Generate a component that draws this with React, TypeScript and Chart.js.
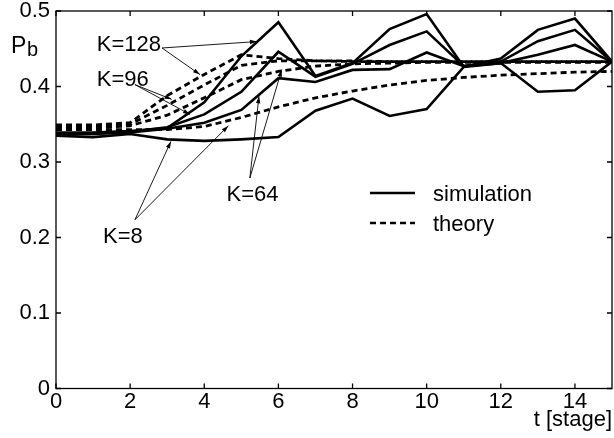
import React, { useEffect, useRef } from "react";
import { Chart, registerables } from "chart.js";

Chart.register(...registerables);

// ---- data ----
const stages = [0, 1, 2, 3, 4, 5, 6, 7, 8, 9, 10, 11, 12, 13, 14, 15];

const simK128 = [0.339, 0.339, 0.341, 0.345, 0.379, 0.44, 0.485, 0.414, 0.431, 0.476, 0.496, 0.426, 0.437, 0.475, 0.49, 0.433];
const simK96 = [0.338, 0.338, 0.34, 0.346, 0.363, 0.393, 0.446, 0.413, 0.43, 0.455, 0.473, 0.427, 0.433, 0.46, 0.475, 0.433];
const simK64 = [0.337, 0.337, 0.339, 0.344, 0.352, 0.369, 0.411, 0.406, 0.422, 0.423, 0.445, 0.427, 0.431, 0.442, 0.455, 0.433];
const simK8 = [0.335, 0.333, 0.337, 0.33, 0.328, 0.33, 0.333, 0.368, 0.384, 0.361, 0.37, 0.426, 0.431, 0.393, 0.395, 0.433];

const thK128 = [0.349, 0.349, 0.352, 0.388, 0.416, 0.442, 0.437, 0.434, 0.434, 0.433, 0.433, 0.433, 0.433, 0.433, 0.433, 0.433];
const thK96 = [0.347, 0.347, 0.35, 0.375, 0.402, 0.428, 0.434, 0.434, 0.433, 0.433, 0.433, 0.433, 0.433, 0.433, 0.433, 0.433];
const thK64 = [0.345, 0.345, 0.348, 0.362, 0.385, 0.409, 0.42, 0.427, 0.43, 0.431, 0.432, 0.432, 0.432, 0.432, 0.432, 0.432];
const thK8 = [0.343, 0.343, 0.343, 0.343, 0.347, 0.359, 0.373, 0.385, 0.394, 0.402, 0.408, 0.412, 0.415, 0.417, 0.419, 0.42];

const xTickValues = [0, 2, 4, 6, 8, 10, 12, 14];
const yTickValues = [0, 0.1, 0.2, 0.3, 0.4, 0.5];

const legendLabels = ["simulation", "theory"];
const xTitle = "t [stage]";
const yTitleMain = "P";
const yTitleSub = "b";

// annotation labels: text position and arrows, in data units (t, P)
const annotations = [
  { text: "K=128", at: [1.1, 0.4467], from: [2.86, 0.451], to: [[5.42, 0.4595], [3.885, 0.4158]] },
  { text: "K=96", at: [1.1, 0.4005], from: [2.13, 0.4025], to: [[3.12, 0.383], [3.615, 0.363]] },
  { text: "K=64", at: [4.6, 0.248], from: [5.23, 0.2788], to: [[5.476, 0.387], [6.09, 0.4224]] },
  { text: "K=8", at: [1.27, 0.1926], from: [2.13, 0.2235], to: [[3.1, 0.3273], [4.65, 0.348]] },
];

const FONT = "'Liberation Sans', Arial, Helvetica, sans-serif";
const FS = 22;

function toPoints(vals: number[]) {
  return stages.map((t, i) => ({ x: t, y: vals[i] }));
}

function arrow(ctx: CanvasRenderingContext2D, x0: number, y0: number, x1: number, y1: number) {
  ctx.beginPath();
  ctx.moveTo(x0, y0);
  ctx.lineTo(x1, y1);
  ctx.stroke();
  const ang = Math.atan2(y1 - y0, x1 - x0);
  const len = 7;
  const w = 2.2;
  const bx = x1 - len * Math.cos(ang);
  const by = y1 - len * Math.sin(ang);
  ctx.beginPath();
  ctx.moveTo(x1, y1);
  ctx.lineTo(bx + w * Math.sin(ang), by - w * Math.cos(ang));
  ctx.lineTo(bx - w * Math.sin(ang), by + w * Math.cos(ang));
  ctx.closePath();
  ctx.fill();
}

const framePlugin = {
  id: "frameDecor",
  afterDatasetsDraw(chart: any) {
    const { ctx, chartArea: a, scales } = chart;
    const xs = scales.x;
    const ys = scales.y;
    ctx.save();
    ctx.strokeStyle = "#000";
    ctx.fillStyle = "#000";
    ctx.lineWidth = 1.3;
    ctx.setLineDash([]);
    ctx.strokeRect(a.left, a.top, a.right - a.left, a.bottom - a.top);
    const tl = 5;
    ctx.beginPath();
    for (const t of xTickValues) {
      const px = xs.getPixelForValue(t);
      ctx.moveTo(px, a.bottom);
      ctx.lineTo(px, a.bottom - tl);
      ctx.moveTo(px, a.top);
      ctx.lineTo(px, a.top + tl);
    }
    for (const v of yTickValues) {
      const py = ys.getPixelForValue(v);
      ctx.moveTo(a.left, py);
      ctx.lineTo(a.left + tl, py);
      ctx.moveTo(a.right, py);
      ctx.lineTo(a.right - tl, py);
    }
    ctx.stroke();

    // axis titles
    ctx.textAlign = "left";
    ctx.textBaseline = "alphabetic";
    ctx.font = `23px ${FONT}`;
    ctx.fillText(yTitleMain, 11, 53);
    ctx.font = `20px ${FONT}`;
    ctx.fillText(yTitleSub, 27, 56);
    ctx.font = `${FS}px ${FONT}`;
    ctx.textAlign = "right";
    ctx.fillText(xTitle, a.right, 426);

    // legend
    const lx0 = 370;
    const lx1 = 415;
    const rows = [193, 223];
    ctx.lineWidth = 2.6;
    ctx.textAlign = "left";
    rows.forEach((ry, i) => {
      ctx.setLineDash(i === 0 ? [] : [6, 4]);
      ctx.beginPath();
      ctx.moveTo(lx0, ry);
      ctx.lineTo(lx1, ry);
      ctx.stroke();
      ctx.setLineDash([]);
      ctx.fillText(legendLabels[i], 433, ry + 8);
    });

    // annotations
    ctx.lineWidth = 0.9;
    ctx.font = `${FS}px ${FONT}`;
    for (const an of annotations) {
      ctx.textAlign = "left";
      ctx.fillText(an.text, xs.getPixelForValue(an.at[0]), ys.getPixelForValue(an.at[1]));
      const fx = xs.getPixelForValue(an.from[0]);
      const fy = ys.getPixelForValue(an.from[1]);
      for (const tp of an.to) {
        arrow(ctx, fx, fy, xs.getPixelForValue(tp[0]), ys.getPixelForValue(tp[1]));
      }
    }
    ctx.restore();
  },
};

export default function App() {
  const ref = useRef<HTMLCanvasElement | null>(null);
  useEffect(() => {
    if (!ref.current) return;
    const solid = (vals: number[], label: string) => ({
      label,
      data: toPoints(vals),
      borderColor: "#000",
      borderWidth: 2.6,
      pointRadius: 0,
      tension: 0,
      fill: false,
    });
    const dashed = (vals: number[], label: string) => ({
      label,
      data: toPoints(vals),
      borderColor: "#000",
      borderWidth: 2.8,
      borderDash: [6, 4],
      pointRadius: 0,
      tension: 0,
      fill: false,
    });
    const chart = new Chart(ref.current, {
      type: "line",
      data: {
        datasets: [
          dashed(thK8, "theory K=8"),
          dashed(thK64, "theory K=64"),
          dashed(thK96, "theory K=96"),
          dashed(thK128, "theory K=128"),
          solid(simK8, "simulation K=8"),
          solid(simK64, "simulation K=64"),
          solid(simK96, "simulation K=96"),
          solid(simK128, "simulation K=128"),
        ],
      },
      options: {
        responsive: false,
        animation: false,
        layout: { padding: { top: 11, right: 2, left: 0, bottom: 0 } },
        plugins: { legend: { display: false }, tooltip: { enabled: false } },
        scales: {
          x: {
            type: "linear",
            min: 0,
            max: 15,
            grid: { display: false, drawTicks: false },
            border: { display: false },
            afterFit: (s: any) => {
              s.height = 49.5;
              s.paddingLeft = 0;
              s.paddingRight = 0;
            },
            ticks: {
              stepSize: 2,
              includeBounds: false,
              autoSkip: false,
              maxRotation: 0,
              padding: 0,
              color: "#000",
              font: { family: FONT, size: FS },
            },
          },
          y: {
            type: "linear",
            min: 0,
            max: 0.5,
            grid: { display: false, drawTicks: false },
            border: { display: false },
            afterFit: (s: any) => {
              s.width = 56;
              s.paddingTop = 0;
              s.paddingBottom = 0;
            },
            ticks: {
              stepSize: 0.1,
              padding: 6,
              color: "#000",
              font: { family: FONT, size: FS },
            },
          },
        },
      },
      plugins: [framePlugin],
    });
    return () => chart.destroy();
  }, []);
  return (
    <div style={{ position: "fixed", left: 0, top: 0, width: 614, height: 438, background: "#fff" }}>
      <canvas ref={ref} width={614} height={438} style={{ display: "block" }} />
    </div>
  );
}
